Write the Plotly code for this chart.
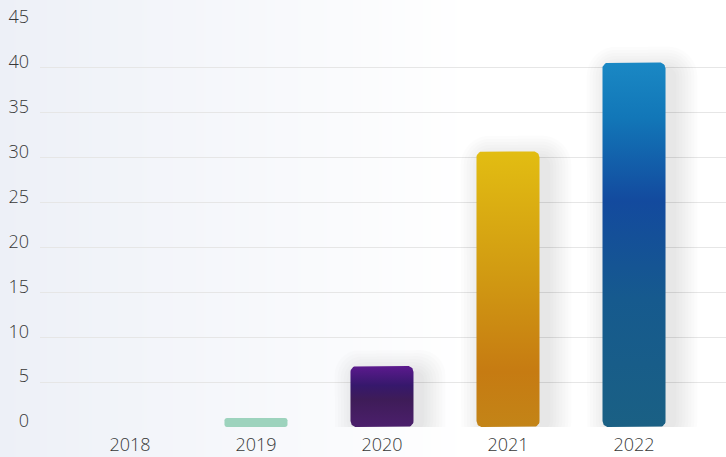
import base64
import struct
import zlib

import numpy as np
import plotly.graph_objects as go

# ---- data ----
years = ["2018", "2019", "2020", "2021", "2022"]
values = [0, 1.0, 6.8, 30.7, 40.6]
y_ticks = [0, 5, 10, 15, 20, 25, 30, 35, 40, 45]

# vertical gradients (bottom -> top) for each bar
bar_gradients = [
    [[0, "#9dd3bd"], [1, "#9dd3bd"]],
    [[0, "#9dd3bd"], [1, "#9dd3bd"]],
    [[0.0, "#4b1f6c"], [0.45, "#3e1c58"], [0.68, "#36186c"], [1.0, "#5c1a8e"]],
    [[0.0, "#c38417"], [0.2, "#c67b12"], [0.55, "#d19a12"], [1.0, "#e2bd12"]],
    [[0.0, "#1a6084"], [0.35, "#165a8e"], [0.62, "#134a9e"], [0.85, "#1277b8"], [1.0, "#1a88c4"]],
]

# ---- geometry helpers ----
W, H = 726, 457
M_L, M_R, M_T, M_B = 40, 0, 23, 30
X_RANGE = [-0.714, 4.73]
Y_RANGE = [0, 45]
plot_w = W - M_L - M_R
plot_h = H - M_T - M_B
px_x = plot_w / (X_RANGE[1] - X_RANGE[0])  # pixels per category
px_y = plot_h / (Y_RANGE[1] - Y_RANGE[0])  # pixels per unit
BAR_W = 0.5


def rounded_rect(x0, x1, y0, y1, r_px):
    """Outline of a rounded rectangle in data units, radius given in pixels."""
    h_px = (y1 - y0) * px_y
    r_px = min(r_px, h_px / 4, (x1 - x0) * px_x / 2)
    rx, ry = r_px / px_x, r_px / px_y
    xs, ys = [], []
    corners = [
        (x1 - rx, y1 - ry, 0, 90),
        (x0 + rx, y1 - ry, 90, 180),
        (x0 + rx, y0 + ry, 180, 270),
        (x1 - rx, y0 + ry, 270, 360),
    ]
    for cx, cy, a0, a1 in corners:
        t = np.radians(np.linspace(a0, a1, 9))
        xs.extend(cx + rx * np.cos(t))
        ys.extend(cy + ry * np.sin(t))
    xs.append(xs[0])
    ys.append(ys[0])
    return xs, ys


fig = go.Figure()

# soft drop shadows behind the bars, cast towards the lower right
for i, v in enumerate(values):
    if v < 3:
        continue
    for k in range(1, 9):
        grow = k * 3.0
        dx = 8 / px_x
        xs, ys = rounded_rect(
            i - BAR_W / 2 - grow / px_x + dx,
            i + BAR_W / 2 + grow / px_x + dx,
            0 - grow / px_y,
            v + (grow - 8) / px_y,
            6 + grow,
        )
        fig.add_trace(go.Scatter(
            x=xs, y=ys, mode="lines", fill="toself",
            fillcolor="rgba(0,0,0,0.013)", line=dict(width=0),
            hoverinfo="skip", showlegend=False,
        ))

# bars with rounded corners and vertical gradient fills
for i, (v, grad) in enumerate(zip(values, bar_gradients)):
    if v <= 0:
        continue
    xs, ys = rounded_rect(i - BAR_W / 2, i + BAR_W / 2, 0, v, 6)
    fig.add_trace(go.Scatter(
        x=xs, y=ys, mode="lines", fill="toself",
        fillgradient=dict(type="vertical", colorscale=grad, start=0, stop=v),
        line=dict(width=0), name=years[i],
        hoverinfo="skip", showlegend=False,
    ))


# horizontal background wash: pale blue-grey on the left fading to white
def gradient_png(width):
    row = bytearray([0])
    left = np.array([237, 240, 247])
    right = np.array([255, 255, 255])
    for x in range(width):
        t = min(x / 470.0, 1.0)
        c = left + (right - left) * t
        row.extend(int(round(v)) for v in c)
    raw = bytes(row)

    def chunk(tag, data):
        c = struct.pack(">I", len(data)) + tag + data
        return c + struct.pack(">I", zlib.crc32(tag + data) & 0xFFFFFFFF)

    png = b"\x89PNG\r\n\x1a\n"
    png += chunk(b"IHDR", struct.pack(">IIBBBBB", width, 1, 8, 2, 0, 0, 0))
    png += chunk(b"IDAT", zlib.compress(raw))
    png += chunk(b"IEND", b"")
    return "data:image/png;base64," + base64.b64encode(png).decode()


fig.add_layout_image(dict(
    source=gradient_png(W), xref="paper", yref="paper",
    x=-M_L / plot_w, y=1 + M_T / plot_h,
    sizex=W / plot_w, sizey=H / plot_h,
    sizing="stretch", xanchor="left", yanchor="top", layer="below",
))

fig.update_layout(
    width=W, height=H,
    margin=dict(l=M_L, r=M_R, t=M_T, b=M_B),
    paper_bgcolor="white",
    plot_bgcolor="rgba(0,0,0,0)",
    font=dict(family="Open Sans, sans-serif", size=18, weight=300, color="#383838"),
    showlegend=False,
    xaxis=dict(
        range=X_RANGE, tickmode="array",
        tickvals=list(range(len(years))), ticktext=years,
        showgrid=False, zeroline=False, showline=False, ticks="",
        ticklabelstandoff=5, fixedrange=True,
    ),
    yaxis=dict(
        range=Y_RANGE, tickmode="array", tickvals=y_ticks,
        showgrid=True, gridcolor="#e6e6e6", gridwidth=1,
        zeroline=False, showline=False, ticks="",
        ticklabelstandoff=10, ticklabelshift=-6, fixedrange=True,
    ),
)

fig.write_html("out.html")
